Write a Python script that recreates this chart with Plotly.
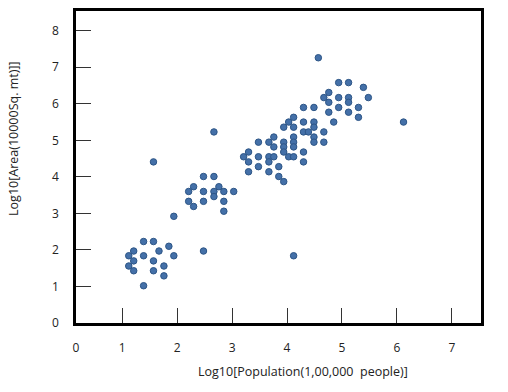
import plotly.graph_objects as go

# Log10 population (x) and log10 area (y)
pop_log = [
    1.39, 1.57, 1.85, 1.21, 1.67, 1.12, 1.39, 1.94, 1.21, 1.57, 1.12, 1.76, 1.21, 1.57, 1.76, 1.39,
    2.48, 4.12, 1.57, 2.67, 4.57, 6.12,
    2.48, 2.67, 2.30, 2.76, 2.21, 2.48, 2.67, 2.85, 3.03, 2.67, 2.21, 2.48, 2.85, 2.30, 2.85, 1.94,
    3.21, 3.30, 3.30, 3.30, 3.48, 3.48, 3.48, 3.67, 3.67, 3.67, 3.67, 3.76, 3.76, 3.76, 3.85, 3.85,
    3.94, 3.94, 3.94, 3.94, 3.94, 4.03, 4.03, 4.12, 4.12, 4.12, 4.12, 4.12, 4.12, 4.30, 4.30, 4.30,
    4.30, 4.39, 4.49, 4.49, 4.49, 4.49, 4.67, 4.67, 4.85,
    4.76, 5.12, 5.30, 4.94, 5.12, 5.39, 4.76, 4.67, 4.94, 5.12, 5.48, 4.76, 5.12, 4.30, 4.49, 4.94,
    5.30,
]
area_log = [
    2.23, 2.23, 2.10, 1.97, 1.97, 1.84, 1.84, 1.84, 1.70, 1.70, 1.56, 1.56, 1.43, 1.43, 1.29, 1.02,
    1.97, 1.84, 4.41, 5.23, 7.26, 5.50,
    4.01, 4.01, 3.73, 3.73, 3.60, 3.60, 3.60, 3.60, 3.60, 3.46, 3.33, 3.33, 3.33, 3.19, 3.06, 2.92,
    4.55, 4.68, 4.41, 4.14, 4.95, 4.55, 4.28, 4.95, 4.55, 4.41, 4.14, 5.09, 4.82, 4.55, 4.28, 4.01,
    5.36, 4.95, 4.82, 4.68, 3.87, 5.50, 4.55, 5.63, 5.36, 5.09, 4.95, 4.82, 4.55, 5.50, 5.23, 4.68,
    4.41, 5.23, 5.50, 5.36, 5.09, 4.95, 5.23, 4.95, 5.50,
    5.77, 5.77, 5.63, 6.58, 6.58, 6.45, 6.31, 6.17, 6.17, 6.17, 6.17, 6.04, 6.04, 5.90, 5.90, 5.90,
    5.90,
]

x_tick_labels = ["0", "1", "2", "3", "4", "5", "6", "7"]
y_tick_values = [0, 1, 2, 3, 4, 5, 6, 7, 8]
x_range = [0.16, 7.53]
y_range = [0, 8.54]

FONT = "Open Sans"
TXT = "#222222"

fig = go.Figure()
fig.add_trace(go.Scatter(
    x=pop_log, y=area_log, mode="markers",
    marker=dict(size=6.5, color="#4470a8", line=dict(width=1, color="#2d5586")),
    showlegend=False, hoverinfo="x+y",
))

x_tick_vals = [x_range[0]] + list(range(1, len(x_tick_labels)))

fig.update_xaxes(
    range=x_range, showgrid=False, zeroline=False,
    showline=True, linecolor="black", linewidth=2.5, mirror=True,
    ticks="inside", ticklen=15, tickwidth=1, tickcolor="#333333",
    tickvals=x_tick_vals, ticktext=x_tick_labels,
    ticklabelstandoff=12,
    tickfont=dict(family=FONT, size=12, color=TXT),
)
fig.update_yaxes(
    range=y_range, showgrid=False, zeroline=False,
    showline=True, linecolor="black", linewidth=2.5, mirror=True,
    ticks="inside", ticklen=15, tickwidth=1, tickcolor="#333333",
    tickvals=y_tick_values,
    ticklabelstandoff=12,
    tickfont=dict(family=FONT, size=12, color=TXT),
)

fig.add_annotation(
    text="Log10[Population(1,00,000  people)]", xref="paper", yref="paper",
    x=0.56, y=-0.156, xanchor="center", yanchor="middle", showarrow=False,
    font=dict(family=FONT, size=12.5, color=TXT),
)
fig.add_annotation(
    text="Log10[Area(10000Sq. mt)]]", xref="paper", yref="paper",
    x=-0.153, y=0.59, xanchor="center", yanchor="middle", showarrow=False,
    textangle=-90, font=dict(family=FONT, size=12.5, color=TXT),
)

fig.update_layout(
    width=508, height=392,
    margin=dict(l=76, r=27, t=8, b=69),
    plot_bgcolor="white", paper_bgcolor="white",
)

# remove the browser's default 8px body margin so the figure fills the window
fig.write_html(
    "out.html",
    config={"displayModeBar": False},
    post_script="document.body.style.margin='0';document.body.style.overflow='hidden';",
)
